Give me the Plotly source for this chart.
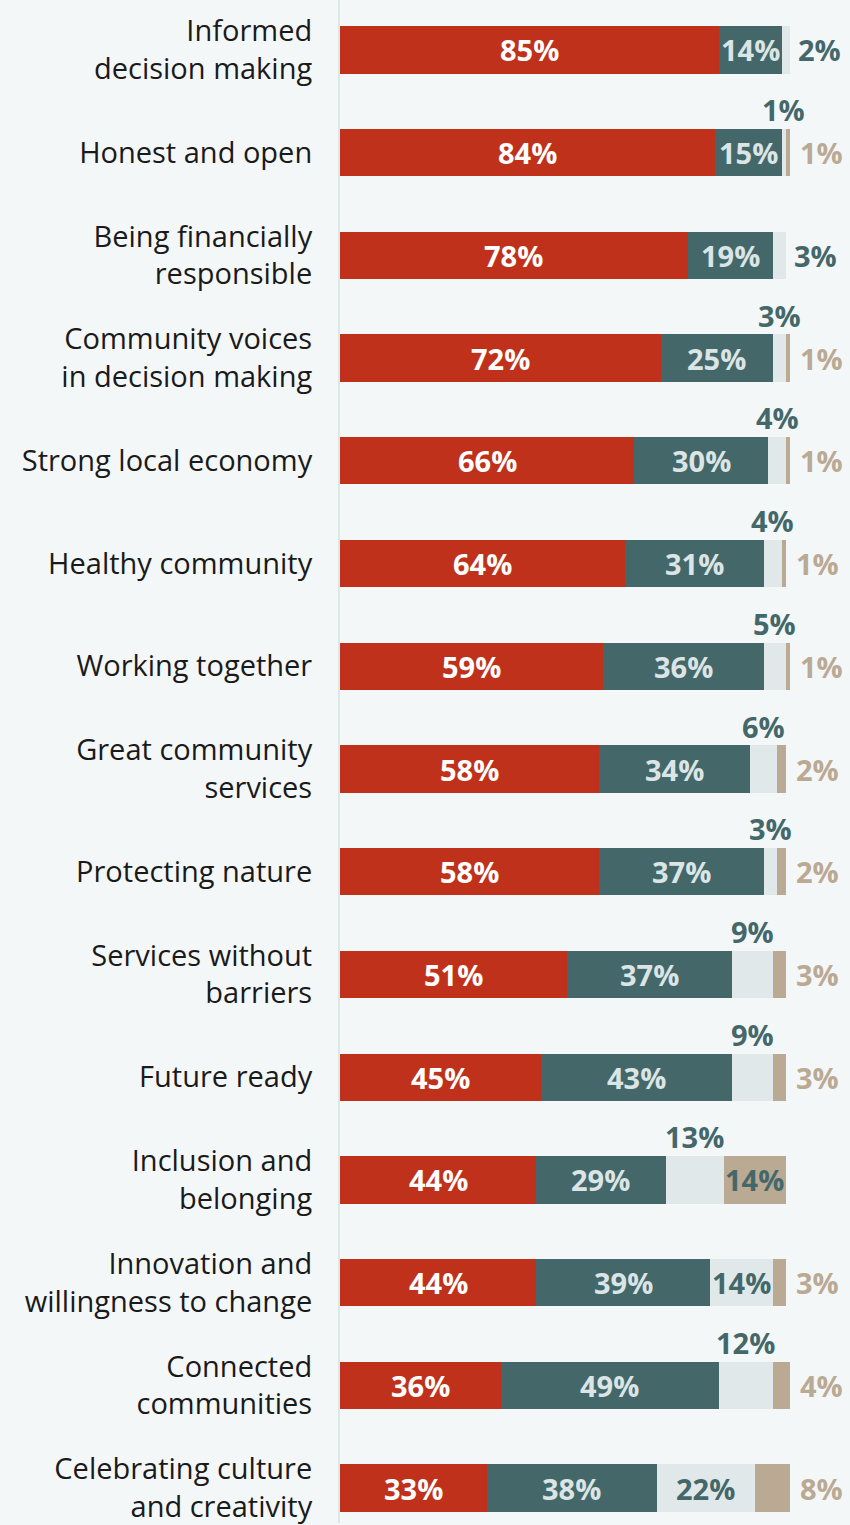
import plotly.graph_objects as go

# Survey results: share of respondents per rating, by priority
categories = [
    "Informed<br>decision making",
    "Honest and open",
    "Being financially<br>responsible",
    "Community voices<br>in decision making",
    "Strong local economy",
    "Healthy community",
    "Working together",
    "Great community<br>services",
    "Protecting nature",
    "Services without<br>barriers",
    "Future ready",
    "Inclusion and<br>belonging",
    "Innovation and<br>willingness to change",
    "Connected<br>communities",
    "Celebrating culture<br>and creativity",
]
very_important = [85, 84, 78, 72, 66, 64, 59, 58, 58, 51, 45, 44, 44, 36, 33]
important = [14, 15, 19, 25, 30, 31, 36, 34, 37, 37, 43, 29, 39, 49, 38]
somewhat = [2, 1, 3, 3, 4, 4, 5, 6, 3, 9, 9, 13, 14, 12, 22]
not_important = [0, 1, 0, 1, 1, 1, 1, 2, 2, 3, 3, 14, 3, 4, 8]

RED = "#BF311B"
TEAL = "#44686A"
LIGHT = "#E0E8E9"
TAN = "#BAA993"
BG = "#F4F7F8"
LABEL_LIGHT = "#DCE5E6"

series = [
    ("Very important", very_important, RED),
    ("Important", important, TEAL),
    ("Somewhat important", somewhat, LIGHT),
    ("Not important", not_important, TAN),
]

ys = list(range(len(categories)))
fig = go.Figure()
for name, vals, col in series:
    fig.add_trace(go.Bar(
        name=name, x=vals, y=ys, orientation="h",
        marker=dict(color=col, line=dict(width=0)),
        width=0.46, hoverinfo="x+name",
    ))

VAL_FONT = dict(family="Open Sans", size=29, weight=700)
INSIDE_MIN = 14
annotations = []
for i in ys:
    r, t, s, n = very_important[i], important[i], somewhat[i], not_important[i]
    total = r + t + s + n
    annotations.append(dict(x=r / 2, y=i, text=f"{r}%", showarrow=False,
                            font=dict(VAL_FONT, color="white")))
    annotations.append(dict(x=r + t / 2, y=i, text=f"{t}%", showarrow=False,
                            font=dict(VAL_FONT, color=LABEL_LIGHT)))
    # third segment
    if s >= INSIDE_MIN:
        annotations.append(dict(x=r + t + s / 2, y=i, text=f"{s}%", showarrow=False,
                                font=dict(VAL_FONT, color=TEAL)))
    elif n == 0:
        annotations.append(dict(x=total, y=i, text=f"{s}%", showarrow=False,
                                xanchor="left", xshift=6,
                                font=dict(VAL_FONT, color=TEAL)))
    else:
        annotations.append(dict(x=r + t + s / 2, y=i, text=f"{s}%", showarrow=False,
                                yshift=43, font=dict(VAL_FONT, color=TEAL)))
    # fourth segment
    if n >= INSIDE_MIN:
        annotations.append(dict(x=r + t + s + n / 2, y=i, text=f"{n}%", showarrow=False,
                                font=dict(VAL_FONT, color=TEAL)))
    elif n > 0:
        annotations.append(dict(x=total, y=i, text=f"{n}%", showarrow=False,
                                xanchor="left", xshift=8,
                                font=dict(VAL_FONT, color=TAN)))

fig.update_layout(
    barmode="stack",
    width=850, height=1525,
    margin=dict(l=340, r=0, t=0, b=0),
    paper_bgcolor=BG, plot_bgcolor=BG,
    showlegend=False,
    annotations=annotations,
    xaxis=dict(range=[0, 510 / 4.46], visible=False, fixedrange=True),
    yaxis=dict(
        range=[14.34, -0.486],
        tickvals=ys, ticktext=categories,
        tickfont=dict(family="Open Sans", size=29, color="#1A1A1A"),
        ticks="", ticklabelstandoff=20, ticklabeloverflow="allow",
        showline=True, linecolor="#DDE6E8", linewidth=2,
        showgrid=False, zeroline=False, fixedrange=True,
    ),
)

fig.write_html("out.html")
